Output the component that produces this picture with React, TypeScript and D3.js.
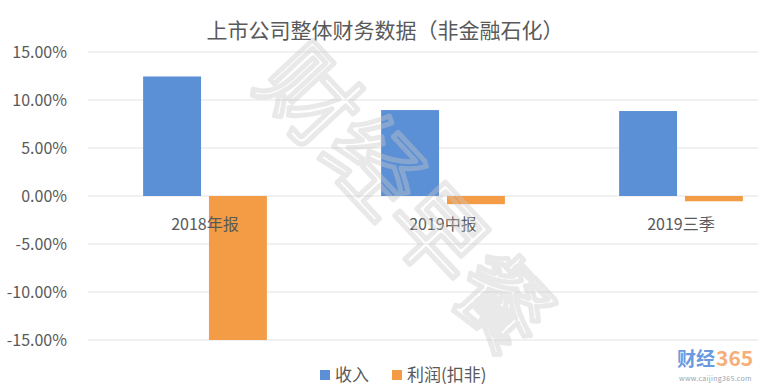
import { useEffect, useRef } from 'react';
import * as d3 from 'd3';

const categories = ['2018年报', '2019中报', '2019三季'];
const seriesNames = ['收入', '利润(扣非)'];
const revenue = [12.45, 8.95, 8.85];
const profit = [-15.0, -0.85, -0.55];
const yTicks = [15, 10, 5, 0, -5, -10, -15];
const colors = ['#5b8fd6', '#f39b45'];

const App = () => {
  const svgRef = useRef<SVGSVGElement>(null);

  useEffect(() => {
    const width = 758;
    const height = 391;
    const font = '"Noto Sans CJK SC", "Noto Sans", sans-serif';

    const svg = d3.select(svgRef.current);
    svg.selectAll('*').remove();
    svg.attr('width', width).attr('height', height);

    svg.append('rect').attr('width', width).attr('height', height).attr('fill', '#fff');

    // plot runs past the right edge (reference is cropped)
    const x0 = d3.scaleBand<string>()
      .domain(categories)
      .range([86, 800]);

    const bw = x0.bandwidth();
    const x1 = d3.scaleBand<string>()
      .domain(seriesNames)
      .range([bw * 0.24, bw * 0.76])
      .paddingInner(0.12);

    const y = d3.scaleLinear()
      .domain([-15, 15])
      .range([340, 52]);

    // Gridlines
    svg.append('g')
      .selectAll('line')
      .data(yTicks)
      .join('line')
      .attr('x1', 88)
      .attr('x2', width)
      .attr('y1', d => y(d))
      .attr('y2', d => y(d))
      .attr('stroke', '#e3e3e3')
      .attr('stroke-width', 1.2);

    // Y labels
    svg.append('g')
      .selectAll('text')
      .data(yTicks)
      .join('text')
      .attr('x', 67)
      .attr('y', d => y(d))
      .attr('dy', '0.36em')
      .attr('text-anchor', 'end')
      .attr('fill', '#595959')
      .style('font-family', font)
      .style('font-size', '16px')
      .text(d => d.toFixed(2) + '%');

    const rows = categories.map((c, i) => ({ c, vals: [revenue[i], profit[i]] }));

    // Bars
    svg.append('g')
      .selectAll('g')
      .data(rows)
      .join('g')
      .attr('transform', d => `translate(${x0(d.c)},0)`)
      .selectAll('rect')
      .data(d => d.vals.map((v, j) => ({ s: seriesNames[j], v, j })))
      .join('rect')
      .attr('x', d => x1(d.s)!)
      .attr('width', x1.bandwidth())
      .attr('y', d => y(Math.max(0, d.v)))
      .attr('height', d => Math.abs(y(d.v) - y(0)))
      .attr('fill', d => colors[d.j]);

    // Category labels
    svg.append('g')
      .selectAll('text')
      .data(categories)
      .join('text')
      .attr('x', d => x0(d)! + bw / 2)
      .attr('y', 224)
      .attr('dy', '0.36em')
      .attr('text-anchor', 'middle')
      .attr('fill', '#595959')
      .style('font-family', font)
      .style('font-size', '16px')
      .text(d => d);

    // Watermark (faint, drawn over the bars)
    svg.append('text')
      .attr('transform', 'translate(405,200) rotate(47)')
      .attr('text-anchor', 'middle')
      .attr('dy', '0.35em')
      .attr('fill', 'none')
      .attr('stroke', 'rgba(200,200,200,0.4)')
      .attr('stroke-width', 5)
      .attr('stroke-linejoin', 'round')
      .style('font-family', font)
      .style('font-size', '94px')
      .text('财经早餐');

    // Title
    svg.append('text')
      .attr('x', 385)
      .attr('y', 30)
      .attr('dy', '0.36em')
      .attr('text-anchor', 'middle')
      .attr('fill', '#595959')
      .style('font-family', font)
      .style('font-size', '21px')
      .text('上市公司整体财务数据（非金融石化）');

    // Legend
    const legendX = [320, 392];
    const lg = svg.append('g')
      .selectAll('g')
      .data(seriesNames)
      .join('g')
      .attr('transform', (d, i) => `translate(${legendX[i]},375)`);
    lg.append('rect')
      .attr('x', 0)
      .attr('y', -5)
      .attr('width', 10)
      .attr('height', 10)
      .attr('fill', (d, i) => colors[i]);
    lg.append('text')
      .attr('x', 15)
      .attr('dy', '0.36em')
      .attr('fill', '#595959')
      .style('font-family', font)
      .style('font-size', '17px')
      .text(d => d);

    // Logo
    const logo = svg.append('g').attr('transform', 'translate(677,366)');
    logo.append('text')
      .attr('fill', '#6a9be0')
      .style('font-family', font)
      .style('font-size', '19px')
      .style('font-weight', 700)
      .text('财经');
    logo.append('text')
      .attr('x', 39)
      .attr('fill', '#f5b07a')
      .style('font-family', font)
      .style('font-size', '21px')
      .style('font-weight', 700)
      .text('365');
    logo.append('text')
      .attr('x', 2)
      .attr('y', 15)
      .attr('fill', '#9aa3b0')
      .style('font-family', font)
      .style('font-size', '7px')
      .style('letter-spacing', '0.3px')
      .text('www.caijing365.com');
  }, []);

  return (
    <div style={{ position: 'absolute', left: 0, top: 0, width: 758, height: 391, overflow: 'hidden' }}>
      <svg ref={svgRef} style={{ display: 'block' }} />
    </div>
  );
};

export default App;
